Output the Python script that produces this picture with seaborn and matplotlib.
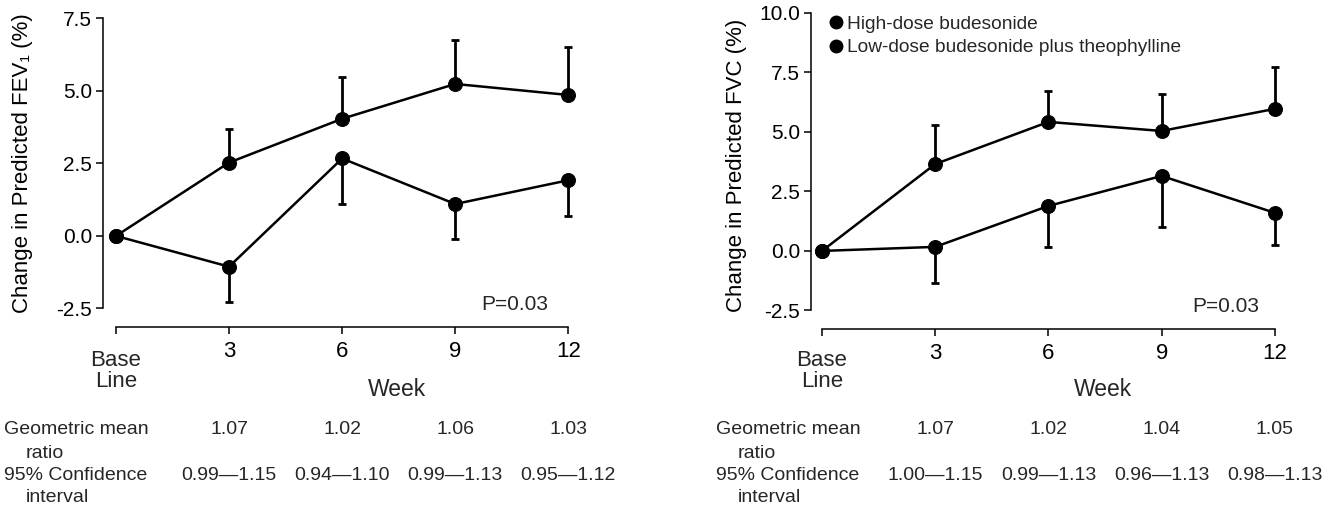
import matplotlib
matplotlib.use("Agg")
import matplotlib.pyplot as plt
from matplotlib.lines import Line2D
from matplotlib.transforms import blended_transform_factory
import pandas as pd
import seaborn as sns

# data
weeks = [0, 3, 6, 9, 12]
week_labels = ["", "3", "6", "9", "12"]

fev_high = [0.0, 2.53, 4.04, 5.24, 4.86]
fev_high_top = [3.70, 5.48, 6.75, 6.50]      # upper error bar ends, weeks 3-12
fev_low = [0.0, -1.06, 2.67, 1.10, 1.92]
fev_low_bottom = [-2.27, 1.10, -0.10, 0.70]  # lower error bar ends, weeks 3-12

fvc_high = [0.0, 3.65, 5.42, 5.04, 5.97]
fvc_high_top = [5.29, 6.72, 6.60, 7.73]
fvc_low = [0.0, 0.17, 1.89, 3.15, 1.60]
fvc_low_bottom = [-1.34, 0.17, 1.00, 0.25]

fev_ratio = ["1.07", "1.02", "1.06", "1.03"]
fev_ci = ["0.99\u20141.15", "0.94\u20141.10", "0.99\u20141.13", "0.95\u20141.12"]
fvc_ratio = ["1.07", "1.02", "1.04", "1.05"]
fvc_ci = ["1.00\u20141.15", "0.99\u20141.13", "0.96\u20141.13", "0.98\u20141.13"]

series_names = ["High-dose budesonide", "Low-dose budesonide plus theophylline"]

sns.set_theme(style="ticks")
plt.rcParams["font.family"] = ["Liberation Sans", "DejaVu Sans"]
plt.rcParams["axes.unicode_minus"] = False

fig = plt.figure(figsize=(13.32, 5.14), dpi=100)
H = 514.0


def make_axes(left_px, right_px, top_px, bottom_px):
    return fig.add_axes([left_px / 1332, (H - bottom_px) / H,
                         (right_px - left_px) / 1332, (bottom_px - top_px) / H])


ax1 = make_axes(103, 580, 10, 327)
ax2 = make_axes(811, 1290, 6, 329)


def draw_panel(ax, high, high_top, low, low_bottom, ylabel, yticks, ylim, xlim,
               label_x, label_y, ratio, ci, row_x, p_pos):
    df = pd.DataFrame({"week": weeks * 2,
                       "value": high + low,
                       "group": [series_names[0]] * 5 + [series_names[1]] * 5})
    sns.lineplot(data=df, x="week", y="value", hue="group",
                 palette=["black", "black"], marker="o", markersize=10,
                 markeredgecolor="black", linewidth=1.8, legend=False, ax=ax,
                 zorder=3)
    up = [t - v for t, v in zip(high_top, high[1:])]
    down = [v - b for b, v in zip(low_bottom, low[1:])]
    ax.errorbar(weeks[1:], high[1:], yerr=[[0] * 4, up], fmt="none",
                ecolor="black", elinewidth=2.0, capsize=3, capthick=2.0)
    ax.errorbar(weeks[1:], low[1:], yerr=[down, [0] * 4], fmt="none",
                ecolor="black", elinewidth=2.0, capsize=3, capthick=2.0)

    ax.set_xlim(*xlim)
    ax.set_ylim(*ylim)
    ax.set_xticks(weeks)
    ax.set_xticklabels(week_labels, fontsize=16)
    ax.set_yticks(yticks)
    ax.set_yticklabels([f"{t:.1f}" for t in yticks], fontsize=15)
    ax.tick_params(axis="both", colors="black", length=5, width=1.1, pad=3)
    ax.tick_params(axis="x", pad=5)
    for side in ["top", "right"]:
        ax.spines[side].set_visible(False)
    ax.spines["left"].set_bounds(yticks[0], yticks[-1])
    ax.spines["bottom"].set_bounds(0, 12)
    for side in ["left", "bottom"]:
        ax.spines[side].set_color("black")
        ax.spines[side].set_linewidth(1.1)
    ax.set_xlabel("")
    ax.set_ylabel(ylabel, fontsize=16, color="black")
    ax.yaxis.set_label_coords(label_x, label_y)

    tr = blended_transform_factory(ax.transData, fig.transFigure)
    ax.text(0, (H - 371) / H, "Base\nLine", transform=tr, ha="center",
            va="center", fontsize=16, linespacing=1.0)
    ax.text(7.45, (H - 389) / H, "Week", transform=tr, ha="center",
            va="center", fontsize=16.5)
    for w, r, c in zip(weeks[1:], ratio, ci):
        ax.text(w, (H - 429) / H, r, transform=tr, ha="center", va="center",
                fontsize=14)
        ax.text(w, (H - 475) / H, c, transform=tr, ha="center", va="center",
                fontsize=14)
    fig.text(row_x / 1332, (H - 430) / H, "Geometric mean", ha="left",
             va="center", fontsize=14)
    fig.text((row_x + 22) / 1332, (H - 453) / H, "ratio", ha="left",
             va="center", fontsize=14)
    fig.text(row_x / 1332, (H - 475) / H, "95% Confidence", ha="left",
             va="center", fontsize=14)
    fig.text((row_x + 22) / 1332, (H - 498) / H, "interval", ha="left",
             va="center", fontsize=14)
    ax.text(p_pos[0], p_pos[1], "P=0.03", ha="right", va="center",
            fontsize=15)


draw_panel(ax1, fev_high, fev_high_top, fev_low, fev_low_bottom,
           "Change in Predicted FEV\u2081 (%)", [-2.5, 0.0, 2.5, 5.0, 7.5],
           (-3.14, 7.79), (-0.345, 12.31), -0.146, 0.517,
           fev_ratio, fev_ci, 4, (11.46, -2.38))
draw_panel(ax2, fvc_high, fvc_high_top, fvc_low, fvc_low_bottom,
           "Change in Predicted FVC (%)", [-2.5, 0.0, 2.5, 5.0, 7.5, 10.0],
           (-3.28, 10.29), (-0.291, 12.4), -0.134, 0.508,
           fvc_ratio, fvc_ci, 716, (11.58, -2.35))

handles = [Line2D([], [], marker="o", color="black", linestyle="none",
                  markersize=9) for _ in series_names]
ax2.legend(handles, series_names, loc="upper left",
           bbox_to_anchor=(0.04, 0.97), frameon=False, fontsize=13.8,
           handlelength=0.6, handletextpad=0.3, labelspacing=0.3,
           borderaxespad=0, borderpad=0)

fig.savefig("out.png", dpi=100)
